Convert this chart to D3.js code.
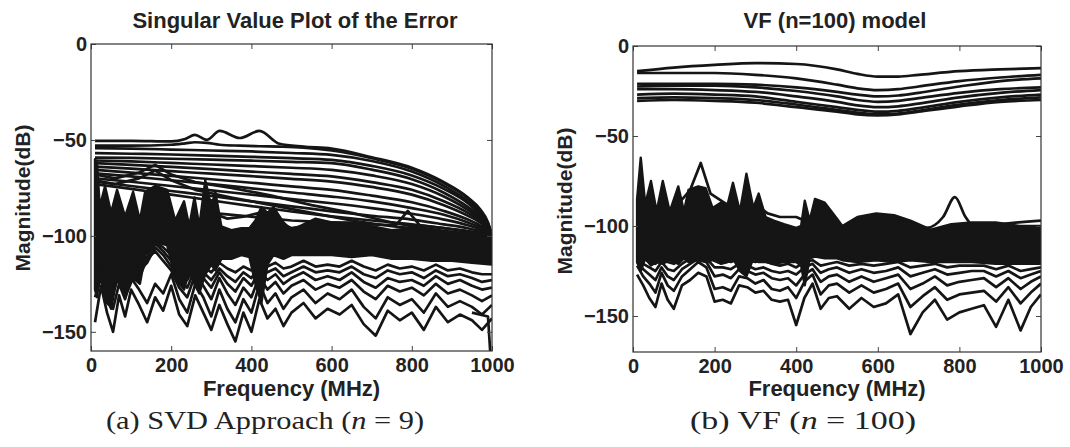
<!DOCTYPE html>
<html><head><meta charset="utf-8">
<script src="https://cdn.jsdelivr.net/npm/d3@7"></script>
<style>body{margin:0;background:#fff}svg{display:block}</style>
</head><body><svg id="c" width="1070" height="447"></svg>
<script>
// ---------- common ----------
const xTicks = [0, 200, 400, 600, 800, 1000];
const yTicks = [0, -50, -100, -150];

// ---------- LEFT PANEL: SVD approach ----------
const leftTitle = "Singular Value Plot of the Error";
const fBump = [10, 100, 200, 235, 259, 289, 321, 371, 420, 470, 530, 600, 700, 800, 880, 940, 970, 990, 1000];
const lA = [-50.5, -50.5, -50.8, -49.5, -47.4, -50, -45.3, -49, -45.3, -52, -53.5, -54.5, -59, -64.5, -72, -80, -86, -93, -100];
const lB = [-53, -53, -52.5, -51.8, -51.2, -51.5, -52.5, -53, -53.3, -53.5, -54, -55.5, -59.5, -65, -72.5, -80.5, -87, -93.5, -100];
const fSmooth = [10, 100, 200, 300, 400, 500, 600, 700, 800, 880, 940, 970, 990, 1000];
const lC = [-54.3, -54.5, -55, -55.5, -56, -56.8, -57.8, -61, -66.5, -74, -82, -88, -94, -100];
const lD = [-56.9, -57.2, -57.6, -58.2, -58.8, -59.5, -60.4, -63.5, -68.5, -75.5, -83, -89, -94.5, -100];
const lE = [-59.2, -59.4, -59.8, -60.3, -60.8, -61.4, -62.1, -65.5, -70.5, -77.5, -85, -90, -95, -100];
const lF = [-60.7, -61.2, -62, -62.8, -63.6, -64.5, -65.6, -68.5, -73, -79.5, -86.5, -91, -95.5, -100];
const lG = [-62.1, -63, -64, -65.2, -66.5, -67.7, -69, -72, -76, -82, -88, -92, -96, -100];
const lH = [-63.9, -65, -66.3, -67.6, -68.9, -70.3, -71.7, -74.5, -78.5, -84, -89.5, -93, -96.5, -100];
const lI = [-65.6, -67, -68.7, -70.5, -72.3, -74.2, -76, -79, -82.5, -87, -91.5, -94.5, -97, -100];
const lJ = [-67.4, -69, -71, -73, -75.2, -77.4, -79.5, -82, -85.5, -89, -93, -95.5, -97.5, -100];
const lK = [-70, -71.8, -74, -76.3, -78.5, -80.8, -83, -85.5, -88.5, -91.5, -94.5, -96.5, -98, -100];
const lL = [-71.7, -74, -76.6, -79.2, -82, -84.6, -87.2, -89.5, -91.5, -94, -96, -97.5, -98.7, -100];
const lM = [-73, -75.5, -78.5, -81.5, -84.5, -87.3, -89.8, -92, -94, -96, -97.5, -98.5, -99.3, -100];
const fPeak = [10, 60, 120, 160, 200, 260, 350, 450, 550, 650, 750, 800, 900, 1000];
const lP1 = [-68, -70, -67, -63, -68, -72, -75, -79, -84, -88, -93, -95, -98, -100];
const lP2 = [-71, -73, -70, -66, -71, -76, -80, -84, -88, -92, -95, -96, -98.5, -100];
const fQ = [300, 500, 600, 700, 760, 790, 820, 880, 950, 1000];
const lQ = [-88, -92, -93, -94, -94.5, -87, -94.5, -96, -98, -100];
const fR = [300, 340, 380, 400, 420, 460, 500, 560, 640];
const lR = [-88, -91, -90, -89, -88, -92, -96, -94, -95];

const lBandF = [10, 15, 22, 35, 50, 65, 85, 105, 122, 135, 160, 190, 210, 232, 245, 258, 270, 285, 300, 310, 325, 350, 375, 395, 410, 425, 440, 455, 480, 500, 520, 560, 600, 650, 700, 750, 800, 850, 900, 950, 1000];
const lBandHi = [-60, -62, -85, -74, -88, -76, -90, -77, -92, -77, -74, -76, -92, -82, -95, -80, -95, -71, -85, -77, -95, -97, -96, -96, -92, -85, -88, -85, -93, -97, -95, -91, -93, -93, -95, -97, -96, -97, -98, -99, -100];
const lBandLo = [-128, -132, -120, -130, -138, -122, -132, -122, -125, -110, -103, -105, -122, -128, -118, -125, -130, -120, -115, -118, -112, -112, -110, -111, -125, -135, -115, -110, -112, -110, -110, -110, -110, -111, -110, -112, -112, -113, -113, -114, -115];

const fLow = [10, 25, 40, 55, 70, 85, 100, 120, 140, 160, 180, 200, 220, 240, 260, 280, 300, 320, 340, 360, 380, 400, 420, 440, 460, 480, 500, 530, 560, 590, 620, 650, 680, 710, 740, 770, 800, 830, 860, 890, 920, 950, 975, 1000];
const lLow1 = [-145, -126, -140, -150, -131, -142, -128, -136, -145, -132, -139, -126, -141, -147, -131, -140, -149, -136, -146, -155, -140, -150, -133, -143, -138, -147, -140, -135, -143, -138, -141, -136, -146, -152, -139, -144, -140, -149, -137, -145, -141, -144, -149, -143];
const lLow2 = [-132, -122, -135, -138, -125, -133, -122, -128, -135, -125, -130, -120, -133, -140, -125, -132, -142, -128, -138, -145, -133, -140, -125, -135, -130, -138, -132, -128, -135, -130, -133, -128, -137, -143, -132, -136, -133, -140, -130, -137, -134, -137, -141, -136];
const lLow3 = [-125, -118, -128, -130, -120, -127, -118, -122, -112, -108, -113, -118, -127, -132, -120, -126, -133, -122, -130, -136, -127, -132, -121, -128, -124, -130, -126, -123, -128, -125, -127, -123, -129, -133, -126, -129, -127, -131, -125, -130, -128, -131, -134, -131];
const lLow4 = [-120, -115, -123, -125, -117, -122, -115, -118, -114, -106, -110, -116, -123, -127, -117, -122, -127, -119, -125, -129, -122, -126, -118, -123, -120, -125, -122, -119, -123, -121, -123, -119, -124, -127, -122, -124, -123, -126, -121, -125, -123, -126, -128, -127];
const lLow5 = [-117, -112, -120, -121, -114, -119, -113, -115, -111, -104, -108, -113, -120, -123, -115, -119, -123, -117, -121, -124, -119, -122, -116, -119, -117, -121, -119, -116, -119, -118, -119, -116, -120, -122, -118, -120, -119, -122, -118, -121, -120, -122, -124, -123];
const lLow6 = [-114, -110, -117, -118, -112, -116, -111, -113, -109, -103, -106, -110, -117, -120, -113, -116, -119, -114, -117, -119, -116, -118, -113, -116, -114, -117, -116, -113, -116, -115, -116, -113, -116, -118, -115, -117, -116, -118, -115, -118, -117, -119, -120, -120];
const fDrop = [950, 990, 1000];
const lDrop = [-140, -142, -175];

// ---------- RIGHT PANEL: VF model ----------
const rightTitle = "VF (n=100) model";
const fTop = [10, 100, 200, 300, 400, 500, 550, 600, 650, 700, 800, 900, 1000];
const r1 = [-14, -12, -10.5, -9.5, -10, -13, -15.5, -17, -17, -16, -14, -13, -12.3];
const r2 = [-15, -15, -15, -16, -18, -21.5, -23.5, -24.5, -24, -22.5, -19.5, -17.5, -16];
const r3 = [-21, -21, -21, -21.5, -23, -25.5, -27, -28, -27.5, -26, -22.5, -19.5, -18];
const r4 = [-22.5, -22, -22, -23, -25, -28, -30, -31, -30.5, -29, -26, -24, -23];
const r5 = [-24, -24, -24.5, -25.5, -28, -31, -33, -34, -33.5, -32, -28.5, -26, -24.5];
const r6 = [-27, -26.5, -27, -28, -31, -34, -35.5, -36.5, -36, -34.5, -31, -28.5, -27];
const r7 = [-29, -28.5, -29, -30, -32.5, -35.5, -37, -38, -37.5, -36, -32.5, -30, -28.5];
const r8 = [-30.5, -30, -30.5, -31.5, -34, -36.5, -38, -38.5, -38, -36.5, -33.5, -31, -30];

const rBandF = [10, 19, 30, 44, 58, 73, 90, 111, 125, 136, 160, 178, 195, 216, 232, 245, 262, 278, 295, 308, 325, 345, 370, 400, 412, 421, 433, 446, 470, 500, 513, 550, 596, 640, 680, 730, 780, 830, 889, 948, 998];
const rBandHi = [-85, -62, -88, -75, -92, -75, -92, -78, -92, -80, -78, -79, -90, -87, -88, -76, -92, -71, -90, -82, -95, -97, -99, -101, -100, -86, -97, -85, -87, -96, -100, -95, -93, -94, -97, -102, -99, -98, -98, -100, -100];
const rBandLo = [-120, -125, -118, -122, -120, -121, -119, -121, -118, -120, -119, -120, -119, -121, -120, -118, -125, -128, -118, -120, -120, -121, -120, -120, -122, -133, -118, -117, -118, -118, -119, -120, -119, -120, -119, -120, -120, -120, -121, -121, -121];
const fS1 = [110, 140, 166, 190, 230];
const rS1 = [-88, -80, -65, -82, -88];
const fS2 = [300, 330, 360, 400, 420];
const rS2 = [-88, -93, -95, -95, -97];
const fS3 = [650, 720, 760, 789, 815, 840, 900, 1000];
const rS3 = [-97, -101, -95, -84, -95, -101, -99, -97];
const rLow1 = [-127, -133, -140, -145, -132, -141, -146, -133, -130, -126, -128, -142, -141, -143, -133, -134, -137, -136, -141, -142, -141, -155, -140, -132, -146, -140, -139, -146, -140, -145, -143, -138, -160, -148, -141, -152, -148, -146, -144, -156, -141, -158, -145, -138];
const rLow2 = [-122, -128, -132, -137, -126, -133, -136, -128, -124, -120, -123, -135, -134, -136, -128, -129, -132, -130, -135, -136, -134, -140, -131, -127, -138, -133, -132, -137, -133, -137, -135, -132, -145, -139, -134, -141, -138, -137, -136, -142, -134, -143, -137, -132];
const rLow3 = [-120, -124, -127, -130, -123, -128, -130, -124, -121, -118, -120, -128, -127, -129, -124, -125, -127, -126, -129, -130, -129, -133, -127, -124, -131, -128, -127, -131, -128, -131, -129, -127, -135, -132, -128, -133, -131, -130, -129, -134, -129, -135, -131, -128];
const rLow4 = [-118, -121, -123, -125, -120, -124, -125, -121, -118, -116, -118, -123, -123, -124, -121, -122, -124, -123, -125, -126, -125, -127, -123, -121, -126, -124, -123, -126, -124, -126, -125, -123, -128, -126, -124, -127, -126, -125, -125, -128, -125, -129, -127, -125];
const rLow5 = [-116, -118, -120, -121, -118, -120, -121, -118, -116, -114, -116, -119, -119, -120, -118, -119, -120, -119, -121, -122, -121, -123, -120, -119, -122, -121, -120, -122, -121, -122, -121, -120, -123, -122, -121, -123, -122, -122, -122, -124, -122, -125, -124, -123];

// ---------- drawing ----------
const svg = d3.select("#c");
const INK = "#151515";
const FONT = "'Liberation Sans', Arial, Helvetica, sans-serif";
const SERIF = "'Liberation Serif', 'DejaVu Serif', serif";
const fmt = d3.format("d");

function panel(cfg) {
  const x = d3.scaleLinear().domain([0, 1000]).range([cfg.x0, cfg.x1]);
  const y = d3.scaleLinear().domain(cfg.yDomain).range([cfg.y1, cfg.y0]);
  const g = svg.append("g");
  g.append("clipPath").attr("id", "clip" + cfg.id).append("rect")
    .attr("x", cfg.x0).attr("y", cfg.y0).attr("width", cfg.x1 - cfg.x0).attr("height", cfg.y1 - cfg.y0);
  const plot = g.append("g").attr("clip-path", `url(#clip${cfg.id})`);

  const area = d3.area().x(d => x(d.f)).y0(d => y(d.lo)).y1(d => y(d.hi));
  plot.append("path")
    .datum(cfg.band.f.map((f, i) => ({f, hi: cfg.band.hi[i], lo: cfg.band.lo[i]})))
    .attr("d", area).attr("fill", INK).attr("stroke", INK).attr("stroke-width", 2.4).attr("stroke-linejoin", "round");

  cfg.series.forEach(s => {
    const line = d3.line().x(d => x(d[0])).y(d => y(d[1]))
      .curve(s.smooth ? d3.curveMonotoneX : d3.curveLinear);
    plot.append("path").datum(s.f.map((f, i) => [f, s.v[i]]))
      .attr("d", line).attr("fill", "none").attr("stroke", INK)
      .attr("stroke-width", 2.7).attr("stroke-linejoin", "round");
  });

  // axes (ticks inward on all sides)
  const bottom = g.append("g").attr("transform", `translate(0,${cfg.y1})`)
    .call(d3.axisBottom(x).tickValues(xTicks).tickFormat(fmt).tickSizeInner(-5).tickSizeOuter(0).tickPadding(7));
  const top = g.append("g").attr("transform", `translate(0,${cfg.y0})`)
    .call(d3.axisTop(x).tickValues(xTicks).tickSizeInner(-5).tickSizeOuter(0).tickFormat(""));
  const left = g.append("g").attr("transform", `translate(${cfg.x0},0)`)
    .call(d3.axisLeft(y).tickValues(yTicks).tickFormat(fmt).tickSizeInner(-5).tickSizeOuter(0).tickPadding(4));
  const right = g.append("g").attr("transform", `translate(${cfg.x1},0)`)
    .call(d3.axisRight(y).tickValues(yTicks).tickSizeInner(-5).tickSizeOuter(0).tickFormat(""));
  [bottom, top, left, right].forEach(a => {
    a.select(".domain").remove();
    a.selectAll("line").attr("stroke", "#444");
    a.selectAll("text").attr("font-family", FONT).attr("font-weight", "bold")
      .attr("font-size", 20).attr("fill", "#222");
  });
  g.append("rect").attr("x", cfg.x0).attr("y", cfg.y0)
    .attr("width", cfg.x1 - cfg.x0).attr("height", cfg.y1 - cfg.y0)
    .attr("fill", "none").attr("stroke", "#333").attr("stroke-width", 1.2);

  g.append("text").attr("x", cfg.titleX).attr("y", 28).attr("text-anchor", "middle")
    .attr("font-family", FONT).attr("font-weight", "bold").attr("font-size", 22).attr("fill", "#222")
    .text(cfg.title);
  g.append("text").attr("x", (cfg.x0 + cfg.x1) / 2).attr("y", 396).attr("text-anchor", "middle")
    .attr("font-family", FONT).attr("font-weight", "bold").attr("font-size", 22).attr("fill", "#222")
    .text("Frequency (MHz)");
  g.append("text").attr("transform", `translate(${cfg.ylabX},${cfg.ylabY}) rotate(-90)`)
    .attr("text-anchor", "middle").attr("dy", "0.35em")
    .attr("font-family", FONT).attr("font-weight", "bold").attr("font-size", 21).attr("fill", "#222")
    .text("Magnitude(dB)");
  const cap = g.append("text").attr("x", cfg.capX).attr("y", 429).attr("text-anchor", "middle")
    .attr("font-family", SERIF).attr("font-size", 26).attr("fill", "#222")
    .attr("textLength", cfg.capW).attr("lengthAdjust", "spacingAndGlyphs");
  cap.append("tspan").text(cfg.cap[0]);
  cap.append("tspan").attr("font-style", "italic").text("n");
  cap.append("tspan").text(cfg.cap[1]);
}

panel({
  id: "L", x0: 91, x1: 492, y0: 44, y1: 351, yDomain: [-160, 0],
  title: leftTitle, titleX: 295, ylabX: 23, ylabY: 198,
  cap: ["(a) SVD Approach (", " = 9)"], capX: 265, capW: 318,
  band: {f: lBandF, hi: lBandHi, lo: lBandLo},
  series: [
    {f: fBump, v: lA, smooth: true}, {f: fBump, v: lB, smooth: true},
    {f: fSmooth, v: lC, smooth: true}, {f: fSmooth, v: lD, smooth: true},
    {f: fSmooth, v: lE, smooth: true}, {f: fSmooth, v: lF, smooth: true},
    {f: fSmooth, v: lG, smooth: true}, {f: fSmooth, v: lH, smooth: true},
    {f: fSmooth, v: lI, smooth: true}, {f: fSmooth, v: lJ, smooth: true},
    {f: fSmooth, v: lK, smooth: true}, {f: fSmooth, v: lL, smooth: true},
    {f: fSmooth, v: lM, smooth: true},
    {f: fPeak, v: lP1}, {f: fPeak, v: lP2},
    {f: fQ, v: lQ}, {f: fR, v: lR},
    {f: fLow, v: lLow1}, {f: fLow, v: lLow2}, {f: fLow, v: lLow3},
    {f: fLow, v: lLow4}, {f: fLow, v: lLow5}, {f: fLow, v: lLow6},
    {f: fDrop, v: lDrop}
  ]
});

panel({
  id: "R", x0: 633, x1: 1041, y0: 46, y1: 352, yDomain: [-170, 0],
  title: rightTitle, titleX: 835, ylabX: 565, ylabY: 201,
  cap: ["(b) VF (", " = 100)"], capX: 803, capW: 226,
  band: {f: rBandF, hi: rBandHi, lo: rBandLo},
  series: [
    {f: fTop, v: r1, smooth: true}, {f: fTop, v: r2, smooth: true},
    {f: fTop, v: r3, smooth: true}, {f: fTop, v: r4, smooth: true},
    {f: fTop, v: r5, smooth: true}, {f: fTop, v: r6, smooth: true},
    {f: fTop, v: r7, smooth: true}, {f: fTop, v: r8, smooth: true},
    {f: fS1, v: rS1}, {f: fS2, v: rS2}, {f: fS3, v: rS3, smooth: true},
    {f: fLow, v: rLow1}, {f: fLow, v: rLow2}, {f: fLow, v: rLow3},
    {f: fLow, v: rLow4}, {f: fLow, v: rLow5}
  ]
});
</script></body></html>
